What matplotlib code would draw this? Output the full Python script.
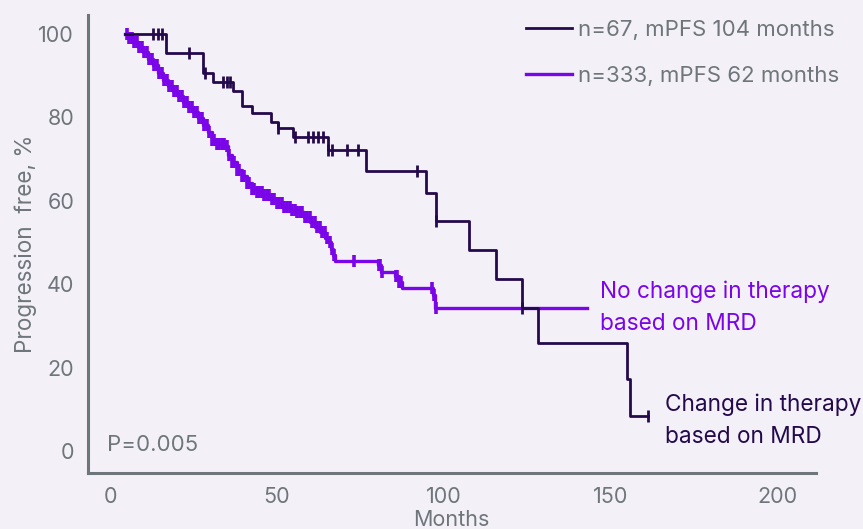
import numpy as np
import matplotlib.pyplot as plt

plt.rcParams['font.family'] = ['Inter', 'DejaVu Sans']

# --- data ---
# MRD-guided change in therapy (n=67): step times (months) and % progression free
chg_t = [4.5, 16.8, 27.9, 30.9, 36.9, 39.6, 42.6, 48.3, 50.4, 54.9, 65.4,
         76.6, 94.8, 97.8, 107.6, 115.7, 123.5, 128.3, 155.0, 155.9, 161.3]
chg_s = [100, 95.3, 90.5, 88.4, 86.2, 82.6, 81.1, 78.8, 77.3, 75.2, 72.1,
         67.2, 61.8, 55.1, 48.2, 41.3, 34.4, 25.8, 17.2, 8.4, 8.4]
chg_cens = [12.9, 14.4, 15.6, 23.7, 28.5, 33.9, 35.0, 36.0, 50.4, 55.5, 59.4,
            60.9, 62.4, 63.9, 65.4, 66.6, 71.0, 74.4, 92.0, 97.8, 123.5, 161.3]

# No change in therapy (n=333)
noc_t = [4.5, 5.5, 7.0, 8.5, 10.0, 11.5, 13.0, 14.5, 16.0, 17.5, 19.0, 20.5,
         22.0, 23.5, 25.0, 26.5, 28.0, 29.5, 30.5, 31.5, 34.5, 35.5, 36.5,
         38.0, 39.5, 41.0, 42.5, 44.0, 46.0, 48.0, 50.0, 52.0, 54.0, 56.0,
         58.0, 60.0, 61.5, 63.0, 64.5, 65.5, 66.3, 66.8, 67.3, 80.4, 81.2,
         85.5, 86.5, 87.5, 96.8, 97.5, 143.0]
noc_s = [100, 99.0, 98.0, 96.8, 95.5, 94.0, 92.5, 90.5, 88.8, 87.5, 86.3, 85.0,
         83.6, 82.4, 81.2, 79.8, 78.2, 76.4, 74.5, 73.5, 73.0, 71.0, 69.2,
         67.3, 65.8, 64.2, 62.8, 62.0, 61.3, 60.5, 59.5, 58.5, 57.8, 57.2,
         56.0, 54.9, 53.8, 52.5, 51.0, 50.0, 48.5, 47.0, 45.6, 44.5, 43.0,
         42.0, 40.5, 39.1, 37.5, 34.4, 34.4]
noc_cens = [5.0, 5.8, 6.6, 7.3, 8.0, 8.8, 9.5, 10.3, 11.0, 11.8, 12.5, 13.3,
            14.0, 14.8, 15.5, 16.3, 17.0, 17.8, 18.5, 19.3, 20.0, 20.8, 21.5,
            22.3, 23.0, 23.8, 24.5, 25.3, 26.0, 26.8, 27.5, 28.3, 29.0, 29.8,
            30.6, 31.3, 32.0, 32.8, 33.5, 34.2, 35.0, 35.8, 36.5, 37.3, 38.0,
            38.8, 39.5, 40.3, 41.0, 41.8, 42.5, 43.3, 44.0, 44.8, 45.5, 46.3,
            47.0, 47.8, 48.5, 49.3, 50.0, 50.8, 51.5, 52.3, 53.0, 53.8, 54.5,
            55.3, 56.0, 56.8, 57.5, 58.3, 59.0, 59.8, 60.5, 61.3, 62.0, 62.8,
            63.5, 64.3, 65.0, 65.8, 66.5, 67.2, 73.0, 80.5, 81.0, 81.5,
            85.6, 86.1, 86.6, 87.2, 96.6, 97.1, 97.6]

xticks = [0, 50, 100, 150, 200]
yticks = [0, 20, 40, 60, 80, 100]

bg = '#F3F1F7'
dark = '#240A4C'
purple = '#7A05E8'
grey = '#6E767C'


def step_value(times, surv, t):
    idx = np.searchsorted(times, t, side='right') - 1
    return np.asarray(surv)[np.clip(idx, 0, len(surv) - 1)]


fig = plt.figure(figsize=(8.63, 5.29), dpi=100, facecolor=bg)
ax = fig.add_axes([0.102, 0.106, 0.843, 0.866], facecolor=bg)

ax.step(noc_t, noc_s, where='post', color=purple, lw=2.4,
        label='n=333, mPFS 62 months', zorder=3)
ax.plot(noc_cens, step_value(noc_t, noc_s, noc_cens), ls='none', marker='|',
        ms=9, mew=2.6, color=purple, zorder=3)

ax.step(chg_t, chg_s, where='post', color=dark, lw=2.0,
        label='n=67, mPFS 104 months', zorder=4)
ax.plot(chg_cens, step_value(chg_t, chg_s, chg_cens), ls='none', marker='|',
        ms=9, mew=2.0, color=dark, zorder=4)

ax.set_xlim(-6.6, 211.5)
ax.set_ylim(-5.2, 104.5)
ax.set_xticks(xticks)
ax.set_yticks(yticks)
ax.tick_params(length=0, labelsize=15.5, labelcolor=grey)
ax.tick_params(axis='y', pad=10)
ax.tick_params(axis='x', pad=10)
for s in ['top', 'right']:
    ax.spines[s].set_visible(False)
for s in ['left', 'bottom']:
    ax.spines[s].set_color(grey)
    ax.spines[s].set_linewidth(2.2)

ax.set_xlabel('Months', fontsize=15.5, color=grey, labelpad=2)
ax.set_ylabel('Progression  free, %', fontsize=16.2, color=grey, labelpad=1)

handles, labels = ax.get_legend_handles_labels()
leg = ax.legend(handles[::-1], labels[::-1], loc='upper left',
                bbox_to_anchor=(0.6095, 0.9625), bbox_transform=fig.transFigure,
                frameon=False, fontsize=16, handlelength=2.07, borderpad=0,
                borderaxespad=0, handletextpad=0.27, labelspacing=1.16)
for t in leg.get_texts():
    t.set_color(grey)

ax.text(-0.8, 1.4, 'P=0.005', fontsize=16, color=grey, va='center')
ax.text(146.8, 34.4, 'No change in therapy\nbased on MRD', fontsize=16.3,
        color=purple, va='center', linespacing=1.6)
ax.text(166.4, 7.2, 'Change in therapy\nbased on MRD', fontsize=16.3,
        color=dark, va='center', linespacing=1.6)

fig.savefig('out.png', dpi=100, facecolor=bg)
